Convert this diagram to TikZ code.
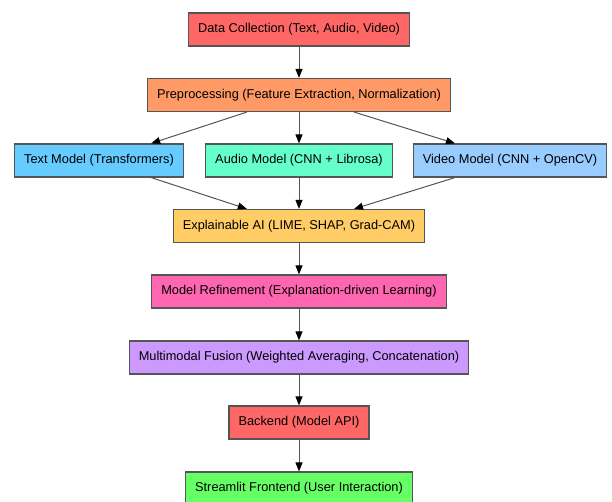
\documentclass[tikz,border=0pt]{standalone}
\usepackage{fontspec}
\setmainfont{Liberation Sans}
\usetikzlibrary{arrows.meta}
\definecolor{collectred}{HTML}{FF6666}
\definecolor{preporange}{HTML}{FF9966}
\definecolor{textblue}{HTML}{66CCFF}
\definecolor{audiogreen}{HTML}{66FFCC}
\definecolor{videoblue}{HTML}{99CCFF}
\definecolor{xaiyellow}{HTML}{FFCC66}
\definecolor{refinepink}{HTML}{FF66B2}
\definecolor{fusionviolet}{HTML}{CC99FF}
\definecolor{frontgreen}{HTML}{66FF66}
\definecolor{boxgray}{HTML}{555555}
\definecolor{linkgray}{HTML}{555555}
\begin{document}
\begin{tikzpicture}[x=1pt,y=1pt,font=\fontsize{12.8}{15}\selectfont,
  box/.style={draw=boxgray, line width=1.2pt, minimum height=33pt, inner xsep=9.5pt, text=black},
  link/.style={draw=linkgray, line width=1pt, -{Triangle[length=9pt,width=7pt,color=black]}}]
  \useasboundingbox (0,0) rectangle (612,502);
  \node [box, fill=collectred]   (collect) at (299,472.5) {Data Collection (Text, Audio, Video)};
  \node [box, fill=preporange]   (prep)    at (299,407)   {Preprocessing (Feature Extraction, Normalization)};
  \node [box, fill=textblue]     (text)    at (99,341.5)  {Text Model (Transformers)};
  \node [box, fill=audiogreen]   (audio)   at (299,341.5) {Audio Model (CNN + Librosa)};
  \node [box, fill=videoblue]    (video)   at (510,341.5) {Video Model (CNN + OpenCV)};
  \node [box, fill=xaiyellow]    (xai)     at (299,276)   {Explainable AI (LIME, SHAP, Grad-CAM)};
  \node [box, fill=refinepink]   (refine)  at (299,210.5) {Model Refinement (Explanation-driven Learning)};
  \node [box, fill=fusionviolet] (fusion)  at (299,144.5) {Multimodal Fusion (Weighted Averaging, Concatenation)};
  \node [box, fill=collectred]   (backend) at (299,79.5)  {Backend (Model API)};
  \node [box, fill=frontgreen]   (front)   at (299,13.5)  {Streamlit Frontend (User Interaction)};

  \draw [link] (collect) -- (prep);
  \foreach \m in {text,audio,video}
    {
      \draw [link] (prep) -- (\m);
      \draw [link] (\m) -- (xai);
    }
  \draw [link] (xai) -- (refine);
  \draw [link] (refine) -- (fusion);
  \draw [link] (fusion) -- (backend);
  \draw [link] (backend) -- (front);
\end{tikzpicture}
\end{document}
